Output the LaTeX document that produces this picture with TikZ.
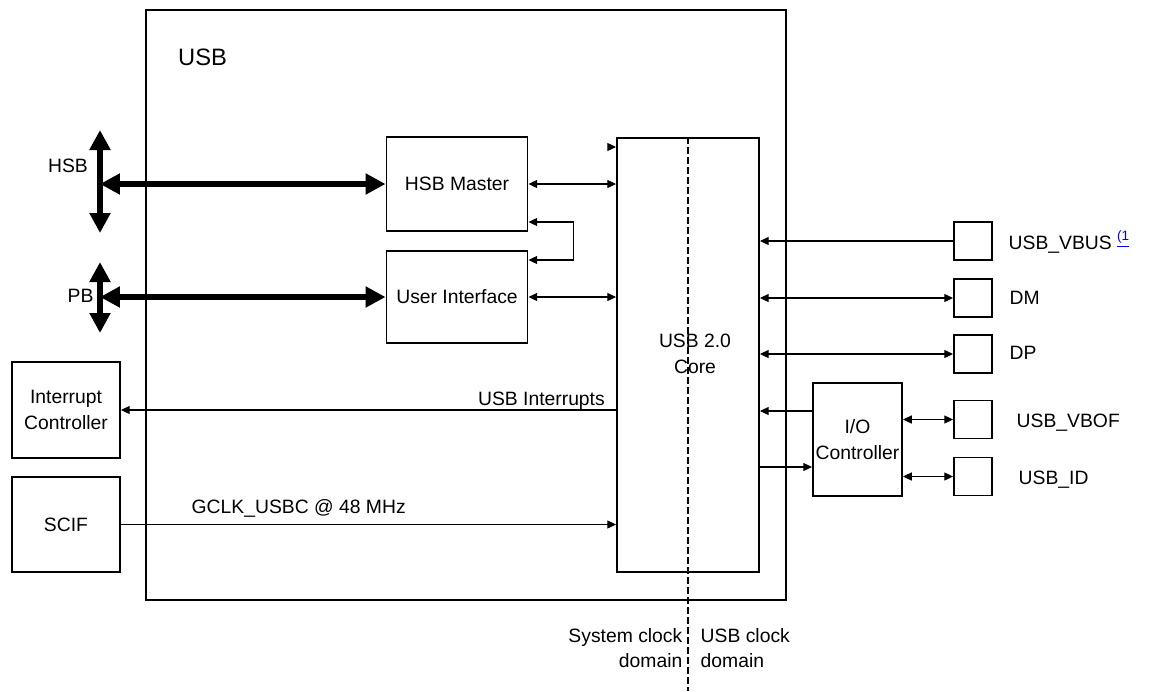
\documentclass[tikz,border=0pt]{standalone}
\usepackage{fontspec}
\setmainfont{Liberation Sans}
\usetikzlibrary{arrows.meta, positioning}

\begin{document}
\begin{tikzpicture}[
    x=0.02cm, y=-0.02cm,
    font=\fontsize{11}{14.5}\selectfont,
    block/.style={draw, line width=1.1pt, inner sep=0pt, align=center},
    pad/.style={block, minimum width=0.76cm, minimum height=0.76cm},
    sig/.style={line width=0.6pt, -{Triangle[length=5pt, width=4.6pt]}},
    bisig/.style={line width=0.6pt, {Triangle[length=5pt, width=4.6pt]}-{Triangle[length=5pt, width=4.6pt]}},
    bus/.style={line width=0.12cm, {Triangle[length=0.4cm, width=0.4cm]}-{Triangle[length=0.4cm, width=0.4cm]}},
    domain line/.style={line width=0.6pt, dash pattern=on 0.13cm off 0.07cm}
]
    \useasboundingbox (0,0) rectangle (1149,691);

    % Nodes
    \node[block, minimum width=12.8cm, minimum height=11.8cm] (usb) at (466,305) {};
    \node[anchor=west, font=\fontsize{13.5}{16}\selectfont] (usbtitle) at (172,57) {USB};
    \node[block, minimum width=2.82cm, minimum height=1.88cm] (hsbm) at (457,184) {HSB Master};
    \node[block, minimum width=2.82cm, minimum height=1.84cm] (ui) at (457,297) {User Interface};
    \node[block, minimum width=2.84cm, minimum height=8.68cm] (core) at (688,355) {};
    \node[align=center] (corelbl) at (695,354) {USB 2.0\\Core};
    \node[block, minimum width=2.16cm, minimum height=1.92cm] (intc) at (66,410) {Interrupt\\Controller};
    \node[block, minimum width=2.16cm, minimum height=1.9cm] (scif) at (66,524.5) {SCIF};
    \node[block, minimum width=1.78cm, minimum height=2.26cm] (ioc) at (857.5,439.5) {I/O\\Controller};

    % Pads
    \node[pad] (vbus) at (973,241) {};
    \node[pad] (dm) at (973,298) {};
    \node[pad] (dp) at (973,354) {};
    \node[pad] (vbof) at (973,419.5) {};
    \node[pad] (usbid) at (973,476.5) {};

    % Labels
    \node[anchor=west] (vbuslbl) at (1002.5,242) {USB\_VBUS \textsuperscript{\color{blue}\underline{(1}}};
    \node[anchor=west] (dmlbl) at (1003.5,298) {DM};
    \node[anchor=west] (dplbl) at (1003.5,353) {DP};
    \node[anchor=west] (vboflbl) at (1010.5,423) {USB\_VBOF};
    \node[anchor=west] (idlbl) at (1012.5,480) {USB\_ID};
    \node (hsblbl) at (68,166) {HSB};
    \node (pblbl) at (80.5,296) {PB};
    \node[anchor=east] (irqlbl) at (611,401) {USB Interrupts};
    \node[anchor=west] (gclklbl) at (185.5,508) {GCLK\_USBC @ 48 MHz};
    \node[anchor=east, align=right] (syslbl) at (688.5,648) {System clock\\domain};
    \node[anchor=west, align=left] (usbclklbl) at (694.5,648) {USB clock\\domain};

    % Bus ends
    \coordinate (hsbtop) at (100,130);
    \coordinate (hsbbot) at (100,233);
    \coordinate (pbtop) at (100,262);
    \coordinate (pbbot) at (100,333);

    % Buses
    \draw[bus] (hsbtop) -- (hsbbot);
    \draw[bus] (hsbtop |- hsbm.west) -- (hsbm.west);
    \draw[bus] (pbtop) -- (pbbot);
    \draw[bus] (pbtop |- ui.west) -- (ui.west);

    % Connections
    \draw[bisig] (hsbm.east) -- (hsbm.east -| core.west);
    \draw[bisig] (ui.east) -- (ui.east -| core.west);
    \draw[bisig] (hsbm.east |- 0,222) -- ++(45,0) |- (ui.east |- 0,260);
    \draw[sig] (608,147) -- (core.west |- 0,147);
    \draw[sig] (core.west |- intc.east) -- (intc.east);
    \draw[sig] (scif.east) -- (scif.east -| core.west);
    \draw[sig] (vbus.west) -- (vbus.west -| core.east);
    \draw[bisig] (dm.west) -- (dm.west -| core.east);
    \draw[bisig] (dp.west) -- (dp.west -| core.east);
    \draw[sig] (ioc.west |- 0,411) -- (core.east |- 0,411);
    \draw[sig] (core.east |- 0,467) -- (ioc.west |- 0,467);
    \draw[bisig] (ioc.east |- vbof.west) -- (vbof.west);
    \draw[bisig] (ioc.east |- usbid.west) -- (usbid.west);

    % Clock domain border
    \draw[domain line] (core.north) -- (core.north |- 0,691);
\end{tikzpicture}
\end{document}
